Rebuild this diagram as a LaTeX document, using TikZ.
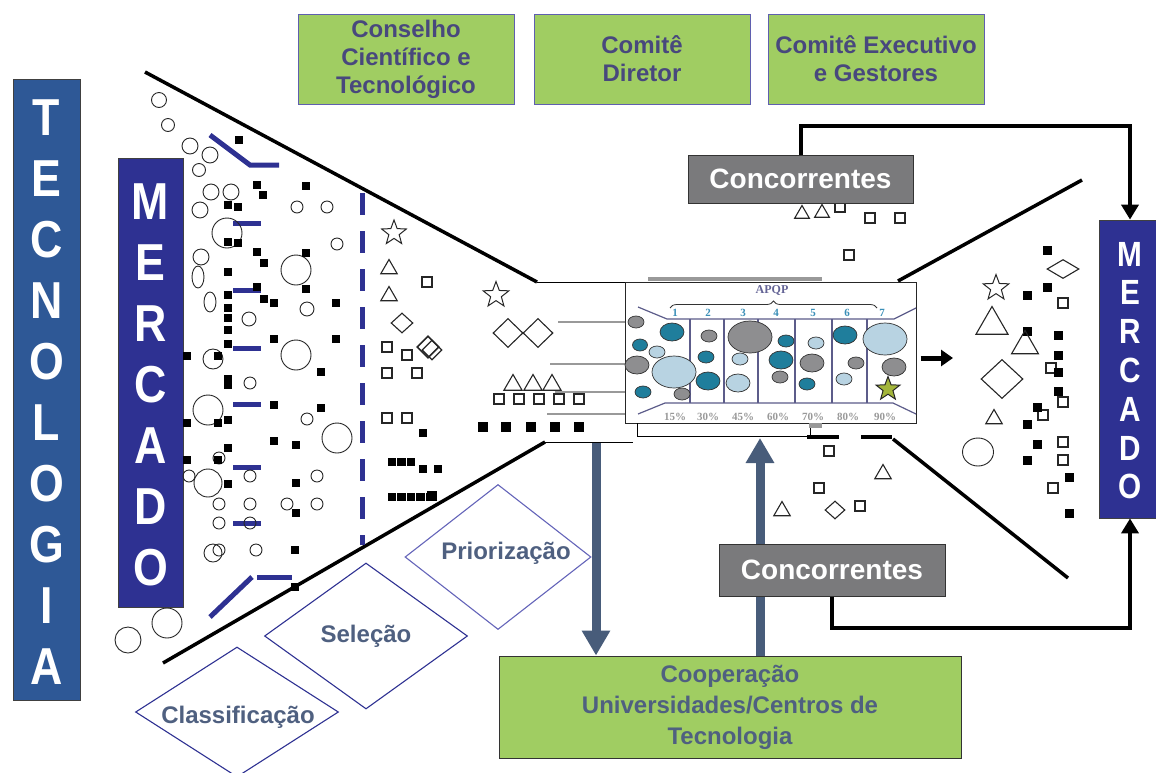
\documentclass[tikz,border=0pt]{standalone}
\usepackage{fontspec}
\setmainfont{Liberation Sans}
\newfontfamily\serifbf{Liberation Serif}
\usepackage{graphicx}
\usetikzlibrary{shapes.geometric,arrows.meta,decorations.pathreplacing}
\definecolor{tecblue}{RGB}{46,88,150}
\definecolor{merblue}{RGB}{46,49,146}
\definecolor{boxgreen}{RGB}{160,205,98}
\definecolor{boxedge}{RGB}{95,95,175}
\definecolor{boxtext}{RGB}{72,72,125}
\definecolor{slate}{RGB}{79,96,128}
\definecolor{arrowcol}{RGB}{72,92,122}
\definecolor{concgray}{RGB}{122,122,124}
\definecolor{tealc}{RGB}{31,126,156}
\definecolor{grayc}{RGB}{142,142,144}
\definecolor{lightc}{RGB}{184,211,226}
\definecolor{panline}{RGB}{92,92,138}
\definecolor{numc}{RGB}{58,143,184}
\definecolor{starg}{RGB}{163,181,58}
\definecolor{diaedge}{RGB}{46,49,146}
\definecolor{diaedgelight}{RGB}{100,100,185}
\definecolor{apqpc}{RGB}{100,100,150}
\newcommand\myfs[2]{\fontsize{#1}{#2}\selectfont}
\begin{document}
\begin{tikzpicture}[x=1pt,y=-1pt,
 tecbar/.style={draw=black!75, line width=0.8pt, fill=tecblue, inner sep=0pt},
 merbar/.style={draw=black!75, line width=0.8pt, fill=merblue, inner sep=0pt},
 bigletter/.style={text=white, inner sep=0pt, font=\myfs{52}{52}\bfseries},
 smallletter/.style={text=white, inner sep=0pt, font=\myfs{35}{35}\bfseries},
 greenbox/.style={draw=boxedge, line width=1pt, fill=boxgreen, text=boxtext, align=center, font=\myfs{24}{28}\bfseries, inner sep=0pt, minimum width=216pt, minimum height=90pt},
 coopbox/.style={draw=black!80, line width=1pt, fill=boxgreen, text=slate, align=center, font=\myfs{24}{31}\bfseries, inner sep=0pt},
 concbox/.style={draw=black!80, line width=1pt, fill=concgray, text=white, font=\myfs{28}{30}\bfseries, inner sep=0pt},
 funnel/.style={line width=3.5pt, black},
 thinl/.style={line width=1pt, black},
 bluebar/.style={line width=5pt, merblue},
 circ/.style={draw=black!85, line width=0.9pt},
 sqf/.style={fill=black, minimum size=#1, inner sep=0pt},
 sqf/.default=8pt,
 sqo/.style={draw=black!85, line width=1.1pt, fill=white, minimum size=10pt, inner sep=0pt},
 tri/.style={regular polygon, regular polygon sides=3, draw=black!85, line width=1.1pt, minimum size=#1, inner sep=0pt},
 starshape/.style={star, star points=5, star point ratio=2.4, draw=black!85, line width=1pt, minimum size=#1, inner sep=0pt},
 dia/.style 2 args={diamond, draw=black!85, line width=1.1pt, fill=white, minimum width=#1, minimum height=#2, inner sep=0pt},
 bigdia/.style={diamond, draw=#1, line width=1.1pt, inner sep=0pt},
 lab/.style={text=slate, font=\myfs{24}{28}\bfseries, inner sep=0pt},
 panl/.style={panline, line width=1.2pt},
 numlab/.style={text=numc, font=\serifbf\bfseries\myfs{11}{11}, inner sep=0pt},
 pctlab/.style={text=black!40, font=\serifbf\bfseries\myfs{11}{11}, inner sep=0pt},
 grayline/.style={line width=1.5pt, black!40},
 bkarrow/.style={line width=4pt, black, -{Triangle[width=17pt,length=15pt]}},
 bigarrow/.style={line width=9pt, arrowcol, -{Triangle[width=27pt,length=25pt]}},
 panarrow/.style={line width=5pt, black, -{Triangle[width=16pt,length=12pt]}}
]
\useasboundingbox (0,0) rectangle (1156,772);

% ---- vertical bars
\node[tecbar, minimum width=67pt, minimum height=621pt] (tec) at (46.5,389.5) {};
\foreach \l [count=\i] in {T,E,C,N,O,L,O,G,I,A}
  \node[bigletter] (tec\i) at (46.5,{118+61*(\i-1)}) {\scalebox{0.86}[1]{\l}};
\node[merbar, minimum width=65pt, minimum height=449pt] (merL) at (150.5,382.5) {};
\foreach \l [count=\i] in {M,E,R,C,A,D,O}
  \node[bigletter] (ml\i) at (150.5,{202+61*(\i-1)}) {\scalebox{0.86}[1]{\l}};
\node[merbar, minimum width=62pt, minimum height=298pt] (merR) at (1130,369) {};
\foreach \l [count=\i] in {M,E,R,C,A,D,O}
  \node[smallletter] (mr\i) at (1130,{254+38.8*(\i-1)}) {\scalebox{0.85}[1]{\l}};

% ---- top green boxes
\node[greenbox] (cct) at (406,59) {Conselho\\Científico e\\Tecnológico};
\node[greenbox] (cd) at (642,59) {Comitê\\Diretor};
\node[greenbox] (ceg) at (876,59) {Comitê Executivo\\e Gestores};

% ---- funnel lines
\draw[funnel] (145,72) -- (537,282);
\draw[thinl] (537,282) -- (625,282);
\draw[funnel] (163,663) -- (545,442);
\draw[thinl] (545,442) -- (633,442);
\draw[funnel] (898,281) -- (1082,180);
\draw[funnel] (893,439) -- (1068,578);
\draw[line width=4pt] (807,437) -- (839,437);
\draw[line width=4pt] (861,437) -- (892,437);

% ---- blue marks
\draw[merblue, line width=5pt, dash pattern=on 22pt off 16pt] (362,193) -- (362,545);
\draw[bluebar] (210,135) -- (250,165) -- (279,165);
\foreach \y in {223,290,348,404,467,523} \draw[bluebar] (233,\y) -- (261,\y);
\draw[bluebar] (210,617) -- (252,577);
\draw[bluebar] (257,577) -- (292,577);

% ---- left circles
\foreach \x/\y/\r in {159/100/7.5,168/125/6.5,190/146/8,210/155/8,199/170/6.5,211/192/8,231/192/8,200/210/8,227/233/15,201/257/8,297/207/6,327/207/6,337/244/6,296/270/15,307/309/7,249/319/7,296/355/15,213/359/10,250/383/6,208/410/15,307/419/6,337/438/15,219/458/6,208/483/14,189/476/6,250/476/6,317/476/6,219/504/6,250/504/6,287/504/6,317/504/6,219/523/6,250/523/6,213/553/9,219/550/6,256/550/6,167/623/15,128/640/13}
  \draw[circ] (\x,\y) circle[radius=\r pt];
\draw[circ] (198,277) ellipse[x radius=6pt, y radius=11pt];
\draw[circ] (210,302) ellipse[x radius=6pt, y radius=10pt];

% ---- left filled squares
\foreach \x/\y [count=\i] in {239/140,257/185,263/195,306/186,228/205,238/207,228/242,238/243,257/252,264/263,306/253,228/272,306/289,257/287,228/295,264/299,274/303,228/308,228/318,336/303,228/330,228/344,274/339,336/339,187/356,218/356,321/372,228/379,228/385,274/405,321/408,187/423,218/423,228/420,228/448,187/460,218/460,274/441,296/445,228/484,296/483,296/513,295/550,295/587,423/433,423/469,438/469}
  \node[sqf] (lf\i) at (\x,\y) {};
\foreach \x [count=\i] in {392,401.5,411}
  \node[sqf=8.5pt] (ra\i) at (\x,462) {};
\foreach \x [count=\i] in {392,401.5,411,420.5,430}
  \node[sqf=8.5pt] (rb\i) at (\x,497) {};
\node[sqf=10pt] (rb6) at (432,496) {};

% ---- open shapes left of panel
\node[starshape=26pt] (st1) at (394,233) {};
\node[tri=19pt] (t1) at (389,269) {};
\node[tri=19pt] (t2) at (389,296) {};
\foreach \x/\y [count=\i] in {427/282,387/347,407/355,387/373,417/373,387/418,407/418}
  \node[sqo] (lo\i) at (\x,\y) {};
\node[dia={22pt}{20pt}] (d1) at (402,323) {};
\node[dia={22pt}{22pt}, line width=1.6pt] (d2) at (428,347) {};
\node[dia={20pt}{20pt}, line width=1.3pt, fill=none] (d3) at (432,350) {};

% ---- shapes near panel
\draw[grayline] (558,322) -- (625,322);
\draw[grayline] (550,364) -- (625,364);
\draw[grayline] (555,392) -- (625,392);
\draw[grayline] (547,414) -- (625,414);
\node[starshape=27pt] (st2) at (496,295) {};
\node[dia={30pt}{29pt}] (d4) at (508,333) {};
\node[dia={30pt}{29pt}] (d5) at (538,333) {};
\foreach \x [count=\i] in {513,533,552} \node[tri=21pt] (tp\i) at (\x,385) {};
\foreach \x [count=\i] in {499,519,539,559,579} \node[sqo] (sp\i) at (\x,399) {};
\foreach \x [count=\i] in {483,506,531,555,579} \node[sqf=10pt] (fp\i) at (\x,427) {};

% ---- right scattered shapes
\node[tri=17pt] (rt1) at (802,214) {};
\node[tri=17pt] (rt2) at (822,213) {};
\foreach \x/\y [count=\i] in {840/207,870/218,900/218,849/255,1063/303,1051/368,1063/402,1043/415,1063/442,1063/460,1053/488,829/451,819/488,860/506}
  \node[sqo] (ro\i) at (\x,\y) {};
\foreach \x/\y [count=\i] in {1047/250,1047/287,1027/295,1027/331,1058/335,1058/355,1058/372,1058/391,1037/407,1027/424,1037/444,1027/460,1069/477,1069/513}
  \node[sqf=9pt] (rf\i) at (\x,\y) {};
\node[starshape=27pt] (st3) at (996,288) {};
\node[tri=37pt] (rt3) at (992,325) {};
\node[tri=31pt] (rt4) at (1025,346) {};
\node[dia={42pt}{39pt}] (d6) at (1002,379) {};
\node[tri=19pt] (rt5) at (994,419) {};
\draw[circ] (978,452) ellipse[x radius=15.5pt, y radius=14pt];
\node[dia={32pt}{19pt}] (d7) at (1063,269) {};
\node[tri=19pt] (rt6) at (883,474) {};
\node[tri=19pt] (rt7) at (782,511) {};
\node[dia={20pt}{18pt}] (d8) at (835,510) {};

% ---- central panel
\draw[line width=4pt, black!40] (648,279) -- (822,279);
\node[draw=black!85, line width=1pt, fill=white, minimum width=291pt, minimum height=141pt, inner sep=0pt] (panel) at (770.5,352.5) {};
\draw[panl] (638,307) -- (667,319) -- (894,319) -- (916,308);
\draw[panl] (638,414) -- (665,403) -- (893,403) -- (916,414);
\foreach \x in {690,724,758,795,832,867} \draw[panl] (\x,319) -- (\x,403);
\foreach \x/\y/\rx/\ry/\c in {674/372/22/16/lightc,750/337/22/16/grayc,885/339/22/16/lightc,636/322/8/6/grayc,672/332/12/9/tealc,640/345/7.5/6/tealc,657/352/8/6/lightc,637/365/12/9/grayc,643/392/8/6/tealc,682/394/8/6/grayc,709/336/8/6/grayc,706/357/8/6/tealc,708/381/12/9/tealc,740/359/8/6/lightc,738/383/12/9/lightc,786/341/8/6/tealc,781/360/12/9/tealc,780/377/8/6/grayc,816/343/8/6/lightc,812/363/12/9/grayc,807/384/8/6/tealc,845/335/12/9/tealc,856/363/8/6/grayc,844/379/8/6/lightc,894/367/12/9/grayc}
  \draw[fill=\c, draw=black!80, line width=0.7pt] (\x,\y) ellipse[x radius=\rx pt, y radius=\ry pt];
\node[starshape=25pt, fill=starg] (gstar) at (888,389) {};
\foreach \n/\x in {1/675,2/708,3/743,4/776,5/813,6/847,7/882}
  \node[numlab] (n\n) at (\x,313) {\n};
\foreach \p/\x [count=\i] in {15/675,30/708,45/743,60/778,70/813,80/848,90/885}
  \node[pctlab] (pc\i) at (\x,417) {\p\%};
\draw[black!80, line width=0.8pt, decorate, decoration={brace, amplitude=7pt}] (670,308) -- (877,308);
\node[text=apqpc, font=\serifbf\bfseries\myfs{12}{12}, inner sep=0pt] (apqp) at (772,290) {APQP};
\draw[thinl] (637,423) -- (637,436) -- (810,436) -- (810,423);
\fill[black!40] (809,423) rectangle (822,428);
\coordinate (pa) at (953,358);
\draw[panarrow, shorten <=4pt] (panel.east |- pa) -- (pa);

% ---- diamonds
\node[bigdia=diaedgelight, minimum width=186pt, minimum height=145pt] (prio) at (498,557) {};
\node[lab] (priot) at (506,553) {Priorização};
\node[bigdia=diaedge, minimum width=203pt, minimum height=146pt] (sel) at (366,636) {};
\node[lab] (selt) at (366,636) {Seleção};
\node[bigdia=diaedge, minimum width=203pt, minimum height=130pt] (cla) at (237,712) {};
\node[lab] (clat) at (238,717) {Classificação};

% ---- bottom box and arrows
\node[coopbox, minimum width=462pt, minimum height=102pt] (coop) at (730,707) {Cooperação\\Universidades/Centros de\\Tecnologia};
\coordinate (dtop) at (596,443);
\draw[bigarrow] (dtop) -- (coop.north -| dtop);
\coordinate (utop) at (760,438);
\draw[bigarrow] (coop.north -| utop) -- (utop);

% ---- competitors
\node[concbox, minimum width=225pt, minimum height=48pt] (conc1) at (800.5,179) {Concorrentes};
\node[concbox, minimum width=226pt, minimum height=52pt] (conc2) at (832,570) {Concorrentes};
\coordinate (tc) at (1130,126);
\draw[bkarrow] (conc1.north) |- (tc) -- (merR.north);
\coordinate (bc) at (1130,628);
\draw[bkarrow] (conc2.south) |- (bc) -- (merR.south);
\end{tikzpicture}
\end{document}
